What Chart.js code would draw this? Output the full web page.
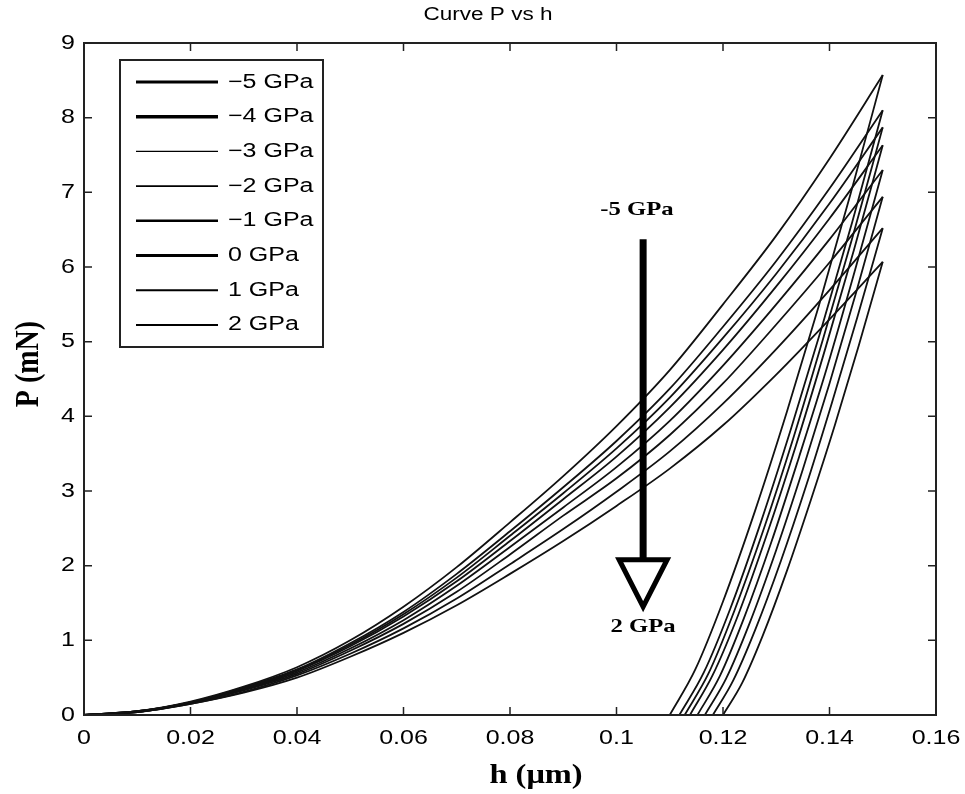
<!DOCTYPE html>
<html>
<head>
<meta charset="utf-8">
<script src="https://cdn.jsdelivr.net/npm/chart.js@4/dist/chart.umd.min.js"></script>
<style>
  html, body { margin: 0; padding: 0; background: #fff; }
  canvas { display: block; }
</style>
</head>
<body>
<canvas id="pvh" width="965" height="794"></canvas>
<script>
// stress levels (legend order)
const stressLabels = ["\u22125 GPa", "\u22124 GPa", "\u22123 GPa", "\u22122 GPa", "\u22121 GPa", "0 GPa", "1 GPa", "2 GPa"];

// loading branch, depth h (um) and load P (mN)
const hLoad = [0, 0.01, 0.02, 0.03, 0.04, 0.05, 0.06, 0.07, 0.08, 0.09, 0.10, 0.11, 0.12, 0.13, 0.14, 0.15];
const loadM5 = [0, 0.05, 0.18, 0.38, 0.64, 1.00, 1.45, 1.98, 2.58, 3.20, 3.87, 4.62, 5.50, 6.42, 7.45, 8.57];
const loadM4 = [0, 0.05, 0.17, 0.37, 0.61, 0.96, 1.38, 1.89, 2.46, 3.05, 3.67, 4.37, 5.20, 6.08, 7.05, 8.10];
const loadM3 = [0, 0.05, 0.17, 0.36, 0.60, 0.94, 1.35, 1.84, 2.40, 2.97, 3.57, 4.25, 5.05, 5.91, 6.85, 7.87];
const loadM2 = [0, 0.05, 0.17, 0.35, 0.59, 0.92, 1.32, 1.79, 2.33, 2.89, 3.46, 4.12, 4.89, 5.74, 6.65, 7.63];
const loadM1 = [0, 0.04, 0.16, 0.34, 0.57, 0.89, 1.27, 1.73, 2.25, 2.78, 3.32, 3.94, 4.68, 5.50, 6.37, 7.30];
const load0  = [0, 0.04, 0.16, 0.33, 0.55, 0.86, 1.22, 1.65, 2.15, 2.67, 3.17, 3.75, 4.44, 5.23, 6.06, 6.94];
const loadP1 = [0, 0.04, 0.15, 0.31, 0.53, 0.82, 1.16, 1.56, 2.02, 2.49, 2.99, 3.53, 4.17, 4.90, 5.69, 6.52];
const loadP2 = [0, 0.04, 0.15, 0.30, 0.50, 0.78, 1.10, 1.47, 1.89, 2.33, 2.80, 3.30, 3.88, 4.56, 5.30, 6.07];

// unloading branch, from residual depth up to the peak
const unH_M5 = [0.1100, 0.1148, 0.1200, 0.1260, 0.1320, 0.1380, 0.1440, 0.150];
const unP_M5 = [0, 0.61, 1.52, 2.73, 4.06, 5.48, 6.99, 8.57];
const unH_M4 = [0.1118, 0.1164, 0.1214, 0.1271, 0.1328, 0.1385, 0.1443, 0.150];
const unP_M4 = [0, 0.57, 1.43, 2.58, 3.84, 5.18, 6.61, 8.10];
const unH_M3 = [0.1128, 0.1173, 0.1221, 0.1277, 0.1333, 0.1388, 0.1444, 0.150];
const unP_M3 = [0, 0.56, 1.39, 2.50, 3.73, 5.04, 6.42, 7.87];
const unH_M2 = [0.1138, 0.1181, 0.1229, 0.1283, 0.1337, 0.1391, 0.1446, 0.150];
const unP_M2 = [0, 0.54, 1.35, 2.43, 3.61, 4.88, 6.23, 7.63];
const unH_M1 = [0.1152, 0.1194, 0.1239, 0.1291, 0.1343, 0.1396, 0.1448, 0.150];
const unP_M1 = [0, 0.52, 1.29, 2.32, 3.46, 4.67, 5.96, 7.30];
const unH_0  = [0.1166, 0.1206, 0.1250, 0.1300, 0.1350, 0.1400, 0.1450, 0.150];
const unP_0  = [0, 0.49, 1.23, 2.21, 3.29, 4.44, 5.66, 6.94];
const unH_P1 = [0.1181, 0.1219, 0.1261, 0.1309, 0.1357, 0.1404, 0.1452, 0.150];
const unP_P1 = [0, 0.46, 1.15, 2.07, 3.09, 4.17, 5.32, 6.52];
const unH_P2 = [0.1200, 0.1236, 0.1275, 0.1320, 0.1365, 0.1410, 0.1455, 0.150];
const unP_P2 = [0, 0.43, 1.07, 1.93, 2.88, 3.88, 4.95, 6.07];

const xTicks = [0, 0.02, 0.04, 0.06, 0.08, 0.1, 0.12, 0.14, 0.16];
const xTickLabels = ["0", "0.02", "0.04", "0.06", "0.08", "0.1", "0.12", "0.14", "0.16"];
const yTicks = [0, 1, 2, 3, 4, 5, 6, 7, 8, 9];

const loads = [loadM5, loadM4, loadM3, loadM2, loadM1, load0, loadP1, loadP2];
const unloadH = [unH_M5, unH_M4, unH_M3, unH_M2, unH_M1, unH_0, unH_P1, unH_P2];
const unloadP = [unP_M5, unP_M4, unP_M3, unP_M2, unP_M1, unP_0, unP_P1, unP_P2];

// legend sample line widths (as in the figure)
const legendWidths = [3, 3.6, 1.3, 1.7, 2.6, 3.2, 2, 2];

const ink = "#111";
const stretch = 1.25;

function toPoints(xs, ys) {
  return xs.map((x, i) => ({ x: x, y: ys[i] }));
}

const datasets = [];
stressLabels.forEach((lab, i) => {
  datasets.push({
    label: lab,
    data: toPoints(hLoad, loads[i]),
    showLine: true, pointRadius: 0, borderColor: ink, borderWidth: 1.8,
    cubicInterpolationMode: "monotone"
  });
  datasets.push({
    label: lab + " unload",
    data: toPoints(unloadH[i], unloadP[i]),
    showLine: true, pointRadius: 0, borderColor: ink, borderWidth: 1.8,
    cubicInterpolationMode: "monotone"
  });
});

function wideText(ctx, txt, x, y, font, align, sx) {
  ctx.save();
  ctx.font = font;
  ctx.fillStyle = "#000";
  ctx.textAlign = align;
  ctx.textBaseline = "middle";
  ctx.translate(x, y);
  ctx.scale(sx, 1);
  ctx.fillText(txt, 0, 0);
  ctx.restore();
}

const decorations = {
  id: "decorations",
  afterDatasetsDraw(chart) {
    const ctx = chart.ctx;
    const xs = chart.scales.x, ys = chart.scales.y;
    const a = chart.chartArea;

    // frame
    ctx.save();
    ctx.strokeStyle = "#222";
    ctx.lineWidth = 2;
    ctx.strokeRect(a.left, a.top, a.right - a.left, a.bottom - a.top);

    // inward ticks on all four sides
    ctx.lineWidth = 1.5;
    const tl = 8;
    ctx.beginPath();
    xTicks.forEach(v => {
      const px = xs.getPixelForValue(v);
      ctx.moveTo(px, a.bottom); ctx.lineTo(px, a.bottom - tl);
      ctx.moveTo(px, a.top); ctx.lineTo(px, a.top + tl);
    });
    yTicks.forEach(v => {
      const py = ys.getPixelForValue(v);
      ctx.moveTo(a.left, py); ctx.lineTo(a.left + tl, py);
      ctx.moveTo(a.right, py); ctx.lineTo(a.right - tl, py);
    });
    ctx.stroke();
    ctx.restore();

    // tick labels
    const tickFont = "20px 'Liberation Sans', Arial, sans-serif";
    xTicks.forEach((v, i) => {
      wideText(ctx, xTickLabels[i], xs.getPixelForValue(v), a.bottom + 23, tickFont, "center", stretch);
    });
    yTicks.forEach(v => {
      wideText(ctx, String(v), a.left - 9, ys.getPixelForValue(v), tickFont, "right", stretch);
    });

    // title and axis titles
    wideText(ctx, "Curve P vs h", 488, 15, "18px 'Liberation Sans', Arial, sans-serif", "center", stretch);
    wideText(ctx, "h (\u03bcm)", 536, 776, "bold 27px 'Liberation Serif', 'Times New Roman', serif", "center", 1.2);

    ctx.save();
    ctx.font = "bold 28px 'Liberation Serif', 'Times New Roman', serif";
    ctx.fillStyle = "#000";
    ctx.textAlign = "center";
    ctx.textBaseline = "middle";
    ctx.translate(29, 364);
    ctx.rotate(-Math.PI / 2);
    ctx.scale(1, 1.2);
    ctx.fillText("P (mN)", 0, 0);
    ctx.restore();

    // arrow from -5 GPa down to 2 GPa
    const ax = xs.getPixelForValue(0.105);
    const yTop = ys.getPixelForValue(6.37);
    const yBase = ys.getPixelForValue(2.08);
    const yTip = ys.getPixelForValue(1.45);
    const half = 24;
    ctx.save();
    ctx.strokeStyle = "#000";
    ctx.lineWidth = 7;
    ctx.beginPath();
    ctx.moveTo(ax, yTop); ctx.lineTo(ax, yBase);
    ctx.stroke();
    ctx.lineWidth = 5;
    ctx.lineJoin = "miter";
    ctx.fillStyle = "#fff";
    ctx.beginPath();
    ctx.moveTo(ax - half, yBase);
    ctx.lineTo(ax + half, yBase);
    ctx.lineTo(ax, yTip);
    ctx.closePath();
    ctx.fill();
    ctx.stroke();
    ctx.restore();

    const annFont = "bold 19px 'Liberation Serif', 'Times New Roman', serif";
    wideText(ctx, "-5 GPa", 637, 210, annFont, "center", 1.3);
    wideText(ctx, "2 GPa", 643, 627, annFont, "center", 1.3);

    // legend box
    const lx = 120, ly = 60, lw = 203, lh = 287;
    ctx.save();
    ctx.fillStyle = "#fff";
    ctx.fillRect(lx, ly, lw, lh);
    ctx.strokeStyle = "#222";
    ctx.lineWidth = 2;
    ctx.strokeRect(lx, ly, lw, lh);
    ctx.strokeStyle = "#000";
    stressLabels.forEach((lab, i) => {
      const ry = 82 + i * 34.7;
      ctx.lineWidth = legendWidths[i];
      ctx.beginPath();
      ctx.moveTo(136, ry); ctx.lineTo(218, ry);
      ctx.stroke();
    });
    ctx.restore();
    stressLabels.forEach((lab, i) => {
      wideText(ctx, lab, 228, 82 + i * 34.7, "20px 'Liberation Sans', Arial, sans-serif", "left", stretch);
    });
  }
};

new Chart(document.getElementById("pvh").getContext("2d"), {
  type: "scatter",
  data: { datasets: datasets },
  options: {
    responsive: false,
    animation: false,
    layout: { padding: { left: 0, top: 43, right: 29, bottom: 0 } },
    plugins: { legend: { display: false }, tooltip: { enabled: false }, title: { display: false } },
    scales: {
      x: {
        type: "linear", min: 0, max: 0.16,
        grid: { display: false, drawTicks: false },
        border: { display: false },
        ticks: { display: false },
        afterFit: s => { s.height = 79; }
      },
      y: {
        type: "linear", min: 0, max: 9,
        grid: { display: false, drawTicks: false },
        border: { display: false },
        ticks: { display: false },
        afterFit: s => { s.width = 84; }
      }
    }
  },
  plugins: [decorations]
});
</script>
</body>
</html>
